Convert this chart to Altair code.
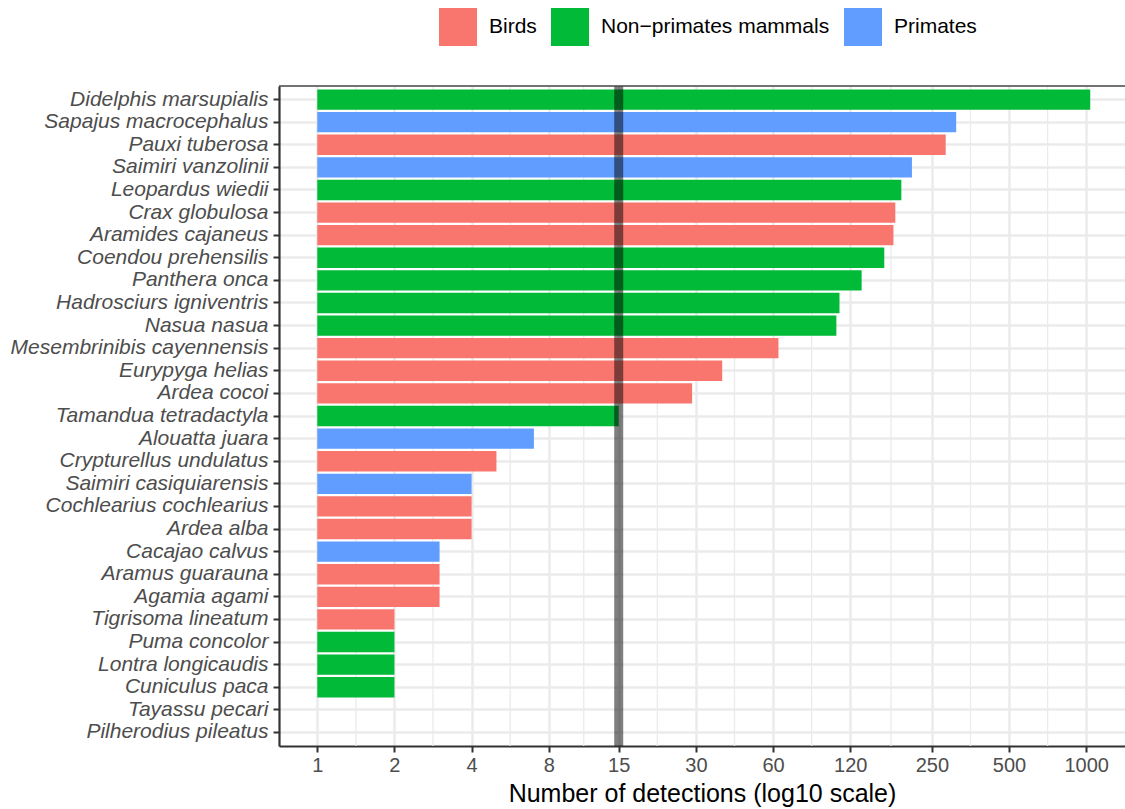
import math
import altair as alt
import pandas as pd

# Species ordered by number of camera-trap detections (top to bottom)
species = [
    "Didelphis marsupialis", "Sapajus macrocephalus", "Pauxi tuberosa",
    "Saimiri vanzolinii", "Leopardus wiedii", "Crax globulosa",
    "Aramides cajaneus", "Coendou prehensilis", "Panthera onca",
    "Hadrosciurs igniventris", "Nasua nasua", "Mesembrinibis cayennensis",
    "Eurypyga helias", "Ardea cocoi", "Tamandua tetradactyla",
    "Alouatta juara\u00a0", "Crypturellus undulatus", "Saimiri casiquiarensis",
    "Cochlearius cochlearius", "Ardea alba", "Cacajao calvus",
    "Aramus guarauna", "Agamia agami", "Tigrisoma lineatum",
    "Puma concolor", "Lontra longicaudis", "Cuniculus paca",
    "Tayassu pecari", "Pilherodius pileatus",
]
detections = [
    1037, 311, 283,
    209, 190, 180,
    177, 163, 133,
    109, 106, 63,
    38, 29, 15,
    7, 5, 4,
    4, 4, 3,
    3, 3, 2,
    2, 2, 2,
    1, 1,
]
BIRD, MAMMAL, PRIMATE = "Birds", "Non\u2212primates mammals", "Primates"
group = [
    MAMMAL, PRIMATE, BIRD,
    PRIMATE, MAMMAL, BIRD,
    BIRD, MAMMAL, MAMMAL,
    MAMMAL, MAMMAL, BIRD,
    BIRD, BIRD, MAMMAL,
    PRIMATE, BIRD, PRIMATE,
    BIRD, BIRD, PRIMATE,
    BIRD, BIRD, BIRD,
    MAMMAL, MAMMAL, MAMMAL,
    MAMMAL, BIRD,
]

groups = [BIRD, MAMMAL, PRIMATE]
group_colors = ["#F8766D", "#00BA38", "#619CFF"]
tick_values = [1, 2, 4, 8, 15, 30, 60, 120, 250, 500, 1000]
threshold = 15

# minor grid lines halfway (in log space) between the labelled breaks
minor_values = [math.sqrt(a * b) for a, b in zip(tick_values[:-1], tick_values[1:])]

df = pd.DataFrame({"species": species, "n": detections, "group": group, "base": 1})
minor_df = pd.DataFrame({"v": minor_values})
thr_df = pd.DataFrame({"v": [threshold]})

W, H = 846, 660
GRID = "#EBEBEB"
xscale = alt.Scale(type="log", domain=[0.709, 1417], nice=False, zero=False)

minor = alt.Chart(minor_df).mark_rule(color=GRID, strokeWidth=1.3).encode(
    x=alt.X("v:Q", scale=xscale)
)

bars = alt.Chart(df).mark_bar().encode(
    x=alt.X(
        "n:Q",
        scale=xscale,
        title="Number of detections (log10 scale)",
        axis=alt.Axis(
            values=tick_values, format="d", grid=True, gridColor=GRID, gridWidth=2.5,
            domainColor="#333333", domainWidth=2.2,
            tickColor="#333333", tickWidth=2, tickSize=6,
            labelFontSize=20, labelColor="#4D4D4D", labelPadding=3,
            titleFontSize=25, titleFontWeight="normal", titleColor="#000000",
            titlePadding=6,
        ),
    ),
    x2="base:Q",
    y=alt.Y(
        "species:N",
        sort=species,
        title=None,
        scale=alt.Scale(paddingInner=0.1, paddingOuter=0.15),
        axis=alt.Axis(
            grid=True, gridColor=GRID, gridWidth=2.5, bandPosition=0.5,
            domainColor="#333333", domainWidth=2.2,
            tickColor="#333333", tickWidth=2, tickSize=6,
            labelFontSize=21, labelFontStyle="italic", labelColor="#4D4D4D",
            labelPadding=5, labelLimit=0,
        ),
    ),
    color=alt.Color(
        "group:N",
        scale=alt.Scale(domain=groups, range=group_colors),
        legend=alt.Legend(
            title=None, orient="none", legendX=160, legendY=-78,
            direction="horizontal", symbolType="square", symbolSize=1444,
            symbolStrokeWidth=0, symbolOpacity=1, labelFontSize=21,
            labelColor="#000000", labelOffset=12, columnPadding=14, padding=0,
            labelLimit=0,
        ),
    ),
)

vline = alt.Chart(thr_df).mark_rule(color="black", opacity=0.5, strokeWidth=9).encode(
    x=alt.X("v:Q", scale=xscale)
)

top_border = alt.Chart(thr_df).mark_rule(color="#444444", strokeWidth=1.5).encode(
    x=alt.value(0), x2=alt.value(W), y=alt.value(0)
)

chart = (
    alt.layer(minor, bars, vline, top_border)
    .properties(
        width=W, height=H, autosize="none",
        padding={"left": 279, "top": 86, "right": 0, "bottom": 63},
    )
    .configure(font="Liberation Sans")
    .configure_view(stroke=None)
)

chart.save("out.html", embed_options={"renderer": "svg", "actions": False})
